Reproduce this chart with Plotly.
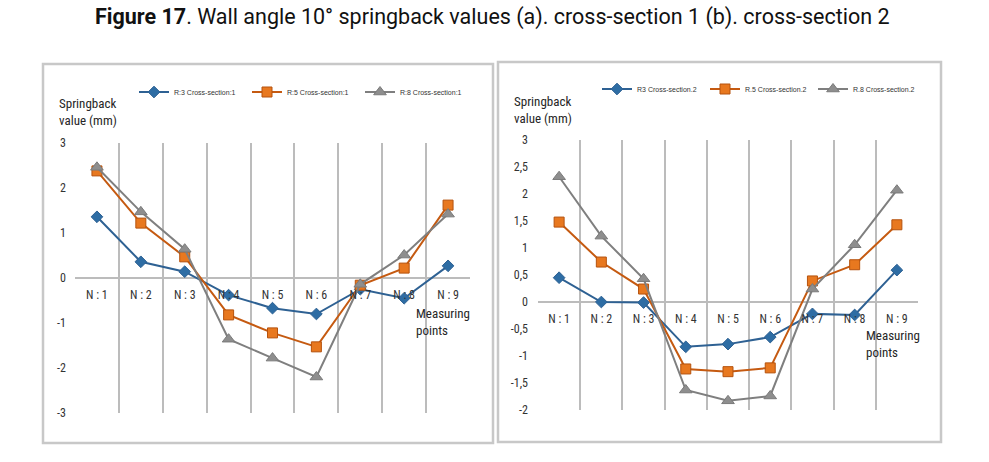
import plotly.graph_objects as go

categories = ["N : 1", "N : 2", "N : 3", "N : 4", "N : 5", "N : 6", "N : 7", "N : 8", "N : 9"]

left_names = ["R:3 Cross-section:1", "R:5 Cross-section:1", "R:8 Cross-section:1"]
left_r3 = [1.36, 0.36, 0.14, -0.38, -0.67, -0.80, -0.25, -0.45, 0.27]
left_r5 = [2.38, 1.22, 0.47, -0.82, -1.22, -1.53, -0.16, 0.22, 1.62]
left_r8 = [2.46, 1.47, 0.64, -1.36, -1.78, -2.20, -0.14, 0.51, 1.42]

right_names = ["R3 Cross-section.2", "R.5 Cross-section.2", "R.8 Cross-section.2"]
right_r3 = [0.45, 0.00, -0.01, -0.83, -0.78, -0.65, -0.22, -0.24, 0.59]
right_r5 = [1.48, 0.74, 0.24, -1.24, -1.29, -1.22, 0.39, 0.69, 1.43]
right_r8 = [2.32, 1.22, 0.43, -1.63, -1.83, -1.74, 0.24, 1.06, 2.07]

left_yticks = [3, 2, 1, 0, -1, -2, -3]
left_yticktext = ["3", "2", "1", "0", "-1", "-2", "-3"]
right_yticks = [3, 2.5, 2, 1.5, 1, 0.5, 0, -0.5, -1, -1.5, -2]
right_yticktext = ["3", "2,5", "2", "1,5", "1", "0,5", "0", "-0,5", "-1", "-1,5", "-2"]

title_text = "<b>Figure 17</b>. Wall angle 10° springback values (a). cross-section 1 (b). cross-section 2"

W, H = 989, 462
def px(x): return x / W
def py(y): return 1 - y / H

styles = [
    dict(color="#2E6193", symbol="diamond", size=9, fill="#2E6DA4", edge="#2E6193"),
    dict(color="#C55A11", symbol="square", size=10, fill="#E8781F", edge="#B5520E"),
    dict(color="#7F7F7F", symbol="triangle-up", size=11, fill="#8E8E8E", edge="#7A7A7A"),
]

fig = go.Figure()
for names, series, xa, ya, lg in [
    (left_names, [left_r3, left_r5, left_r8], "x", "y", "legend"),
    (right_names, [right_r3, right_r5, right_r8], "x2", "y2", "legend2"),
]:
    for name, vals, st in zip(names, series, styles):
        fig.add_trace(go.Scatter(
            x=categories, y=vals, name=name, mode="lines+markers",
            xaxis=xa, yaxis=ya, legend=lg,
            line=dict(color=st["color"], width=2),
            marker=dict(symbol=st["symbol"], size=st["size"], color=st["fill"],
                        line=dict(color=st["edge"], width=1)),
        ))

NARROW = "Liberation Sans Narrow, Roboto Condensed, Lato, sans-serif"
chart_font = dict(family=NARROW, size=12, color="#333333")

lx0, lx1 = px(75), px(470)
ly0, ly1 = py(413), py(143)
rx0, rx1 = px(538), px(918)
ry0, ry1 = py(410), py(140)

def xaxis_cfg(dom, ydom, zfrac):
    return dict(domain=[dom[0], dom[1]], anchor="free", position=ydom[0] + zfrac * (ydom[1] - ydom[0]),
                type="category", range=[-0.5, 8.5], tickson="boundaries",
                showgrid=True, gridcolor="#BCBCBC", gridwidth=2, showline=False, ticks="",
                tickfont=dict(family=NARROW, size=12, color="#333333"),
                ticklabelstandoff=8, zeroline=False, fixedrange=True, automargin=False)

legend_font = dict(family="Liberation Sans, Arial, sans-serif", size=7, color="#333333")

fig.update_layout(
    width=W, height=H, margin=dict(l=0, r=0, t=0, b=0, autoexpand=False),
    paper_bgcolor="white", plot_bgcolor="white",
    showlegend=True,
    xaxis=xaxis_cfg((lx0, lx1), (ly0, ly1), 0.5),
    yaxis=dict(domain=[ly0, ly1], anchor="free", position=lx0, range=[-3, 3],
               tickvals=left_yticks, ticktext=left_yticktext, showgrid=False,
               zeroline=True, zerolinecolor="#BCBCBC", zerolinewidth=2, ticks="",
               ticklabelstandoff=9, tickfont=chart_font, showline=False, automargin=False),
    xaxis2=xaxis_cfg((rx0, rx1), (ry0, ry1), 0.4),
    yaxis2=dict(domain=[ry0, ry1], anchor="free", position=rx0, range=[-2, 3],
                tickvals=right_yticks, ticktext=right_yticktext, showgrid=False,
                zeroline=True, zerolinecolor="#BCBCBC", zerolinewidth=2, ticks="",
                ticklabelstandoff=10, tickfont=chart_font, showline=False, automargin=False),
    legend=dict(orientation="h", x=px(134), y=py(92), xanchor="left", yanchor="middle",
                font=legend_font, bgcolor="rgba(0,0,0,0)", itemwidth=30,
                entrywidth=68, entrywidthmode="pixels", tracegroupgap=0),
    legend2=dict(orientation="h", x=px(597), y=py(89), xanchor="left", yanchor="middle",
                 font=legend_font, bgcolor="rgba(0,0,0,0)", itemwidth=30,
                 entrywidth=63, entrywidthmode="pixels", tracegroupgap=0),
)

shapes = [
    dict(type="rect", xref="paper", yref="paper", x0=px(43), x1=px(493), y0=py(443), y1=py(64),
         line=dict(color="#C8C8C8", width=2.5)),
    dict(type="rect", xref="paper", yref="paper", x0=px(498), x1=px(941), y0=py(442), y1=py(62),
         line=dict(color="#C8C8C8", width=2.5)),
]
fig.update_layout(shapes=shapes)

side_font = dict(family=NARROW, size=13, color="#262626")
ann = [
    dict(text=title_text, x=px(492), y=py(17), xref="paper", yref="paper", showarrow=False,
         xanchor="center", yanchor="middle",
         font=dict(family="Roboto, sans-serif", size=21.5, color="#111111")),
    dict(text="Springback<br>value (mm)", x=px(57), y=py(112), xref="paper", yref="paper",
         showarrow=False, xanchor="left", yanchor="middle", align="left", font=side_font),
    dict(text="Springback<br>value (mm)", x=px(512), y=py(110), xref="paper", yref="paper",
         showarrow=False, xanchor="left", yanchor="middle", align="left", font=side_font),
    dict(text="Measuring<br>points", x=px(414), y=py(322), xref="paper", yref="paper",
         showarrow=False, xanchor="left", yanchor="middle", align="left", font=side_font),
    dict(text="Measuring<br>points", x=px(864), y=py(344), xref="paper", yref="paper",
         showarrow=False, xanchor="left", yanchor="middle", align="left", font=side_font),
]
fig.update_layout(annotations=ann)

fig.write_html("out.html")
